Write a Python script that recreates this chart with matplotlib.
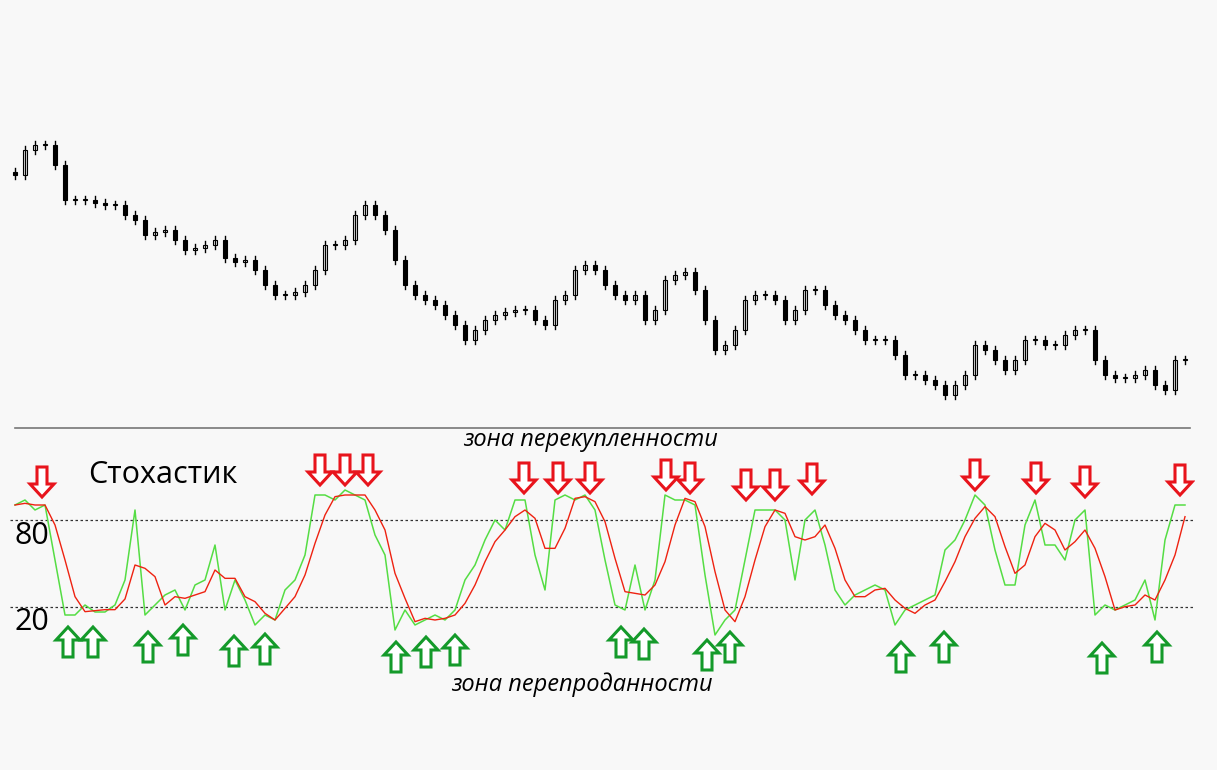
import matplotlib
matplotlib.use("Agg")
import matplotlib.pyplot as plt
from matplotlib.patches import Polygon, Rectangle
import numpy as np

# price closes (chart units, higher = higher price)
close_px = [175,150,145,145,165,200,200,200,203,205,205,215,220,235,232,230,240,250,248,245,
            240,258,262,260,270,285,295,295,292,285,270,245,245,240,215,205,215,230,260,285,
            295,300,305,315,325,340,330,320,315,312,310,310,320,325,300,295,270,265,270,285,
            295,300,295,320,310,280,275,272,290,320,350,345,330,300,295,295,300,320,310,290,
            290,305,315,320,330,340,340,340,355,375,375,380,385,395,385,375,345,350,360,370,
            360,340,340,345,345,335,330,330,360,375,378,378,375,370,385,390,360,360]
close = [430 - v for v in close_px]

# stochastic %K (pixel reading converted to 0-100)
k_px = [505,500,510,505,560,615,615,605,612,612,605,580,510,615,605,595,590,610,585,580,
        545,610,580,600,625,615,620,590,580,555,495,495,500,490,495,500,535,555,630,610,
        625,620,615,620,610,580,565,540,520,530,500,500,555,590,500,495,500,495,510,560,
        605,610,565,610,580,495,500,500,505,575,635,620,610,560,510,510,510,520,580,520,
        510,545,590,605,595,590,585,590,625,610,605,600,595,550,540,520,495,505,550,585,
        585,525,500,545,545,560,520,510,615,605,610,605,600,580,620,540,505,505]
k = np.array([80 - (y - 520) / 1.45 for y in k_px])
d = np.convolve(np.r_[k[0], k[0], k], np.ones(3) / 3, mode="valid")

red_arrow_x = [42,320,345,368,524,558,590,666,690,746,775,812,975,1036,1085,1180]
red_arrow_tip = [497,485,485,485,493,493,493,490,493,500,500,494,490,493,497,495]
green_arrow_x = [68,93,148,183,234,265,396,426,455,621,644,707,730,901,944,1102,1157]
green_arrow_tip = [627,627,632,625,636,634,642,637,635,627,629,640,632,642,632,643,632]

W, H = 1217, 770
fig = plt.figure(figsize=(W/100, H/100), dpi=100)
fig.patch.set_facecolor("#f8f8f8")

def ax_rect(x0, y0, x1, y1):
    return [x0/W, 1 - y1/H, (x1-x0)/W, (y1-y0)/H]

def px2idx(x):
    return (x - 15) / 10.0

def py2val(y):
    return 80 - (y - 520) / 1.45

top = fig.add_axes(ax_rect(10, 120, 1195, 420))
top.set_xlim(px2idx(10), px2idx(1195))
top.set_ylim(10, 310)
top.axis("off")
prev = close[0] + 3
for i, c in enumerate(close):
    o = prev
    hi, lo = max(o, c) + 4, min(o, c) - 4
    top.plot([i, i], [lo, hi], color="black", lw=1)
    up = c >= o
    h = abs(c - o) if abs(c - o) > 0.6 else 0.6
    top.add_patch(Rectangle((i - 0.16, min(o, c)), 0.32, h,
                            facecolor="white" if up else "black", edgecolor="black", lw=0.8))
    prev = c

bot = fig.add_axes(ax_rect(10, 430, 1195, 700))
bot.set_xlim(px2idx(10), px2idx(1195))
bot.set_ylim(py2val(700), py2val(430))
bot.axis("off")
x = np.arange(len(k))
bot.axhline(80, color="#333333", ls=(0, (2, 2)), lw=0.9)
bot.axhline(20, color="#333333", ls=(0, (2, 2)), lw=0.9)
bot.plot(x, k, color="#55dd44", lw=1.1)
bot.plot(x, d, color="#ee2211", lw=1.0)

def arrow(xc, ytip, down, color):
    w, sw, hh, L = 1.2, 0.5, 13 / 1.45, 30 / 1.45
    if down:
        pts = [(xc, ytip), (xc - w, ytip + hh), (xc - sw, ytip + hh), (xc - sw, ytip + L),
               (xc + sw, ytip + L), (xc + sw, ytip + hh), (xc + w, ytip + hh)]
    else:
        pts = [(xc, ytip), (xc - w, ytip - hh), (xc - sw, ytip - hh), (xc - sw, ytip - L),
               (xc + sw, ytip - L), (xc + sw, ytip - hh), (xc + w, ytip - hh)]
    bot.add_patch(Polygon(pts, closed=True, facecolor="white", edgecolor=color, lw=2.2, zorder=5))

for xp, yp in zip(red_arrow_x, red_arrow_tip):
    arrow(px2idx(xp), py2val(yp), True, "#e8141c")
for xp, yp in zip(green_arrow_x, green_arrow_tip):
    arrow(px2idx(xp), py2val(yp), False, "#149a2a")

fig.add_artist(plt.Line2D([15/W, 1190/W], [1 - 428/H, 1 - 428/H], color="#777777", lw=1.2))
fig.text(590/W, 1 - 440/H, "зона перекупленности", ha="center", va="center",
         style="italic", fontsize=17, family="Open Sans")
fig.text(582/W, 1 - 685/H, "зона перепроданности", ha="center", va="center",
         style="italic", fontsize=17, family="Open Sans")
fig.text(88/W, 1 - 475/H, "Стохастик", ha="left", va="center", fontsize=22, family="Open Sans")
fig.text(15/W, 1 - 536/H, "80", ha="left", va="center", fontsize=22, family="Open Sans")
fig.text(15/W, 1 - 622/H, "20", ha="left", va="center", fontsize=22, family="Open Sans")

fig.savefig("out.png", dpi=100, facecolor=fig.get_facecolor())
